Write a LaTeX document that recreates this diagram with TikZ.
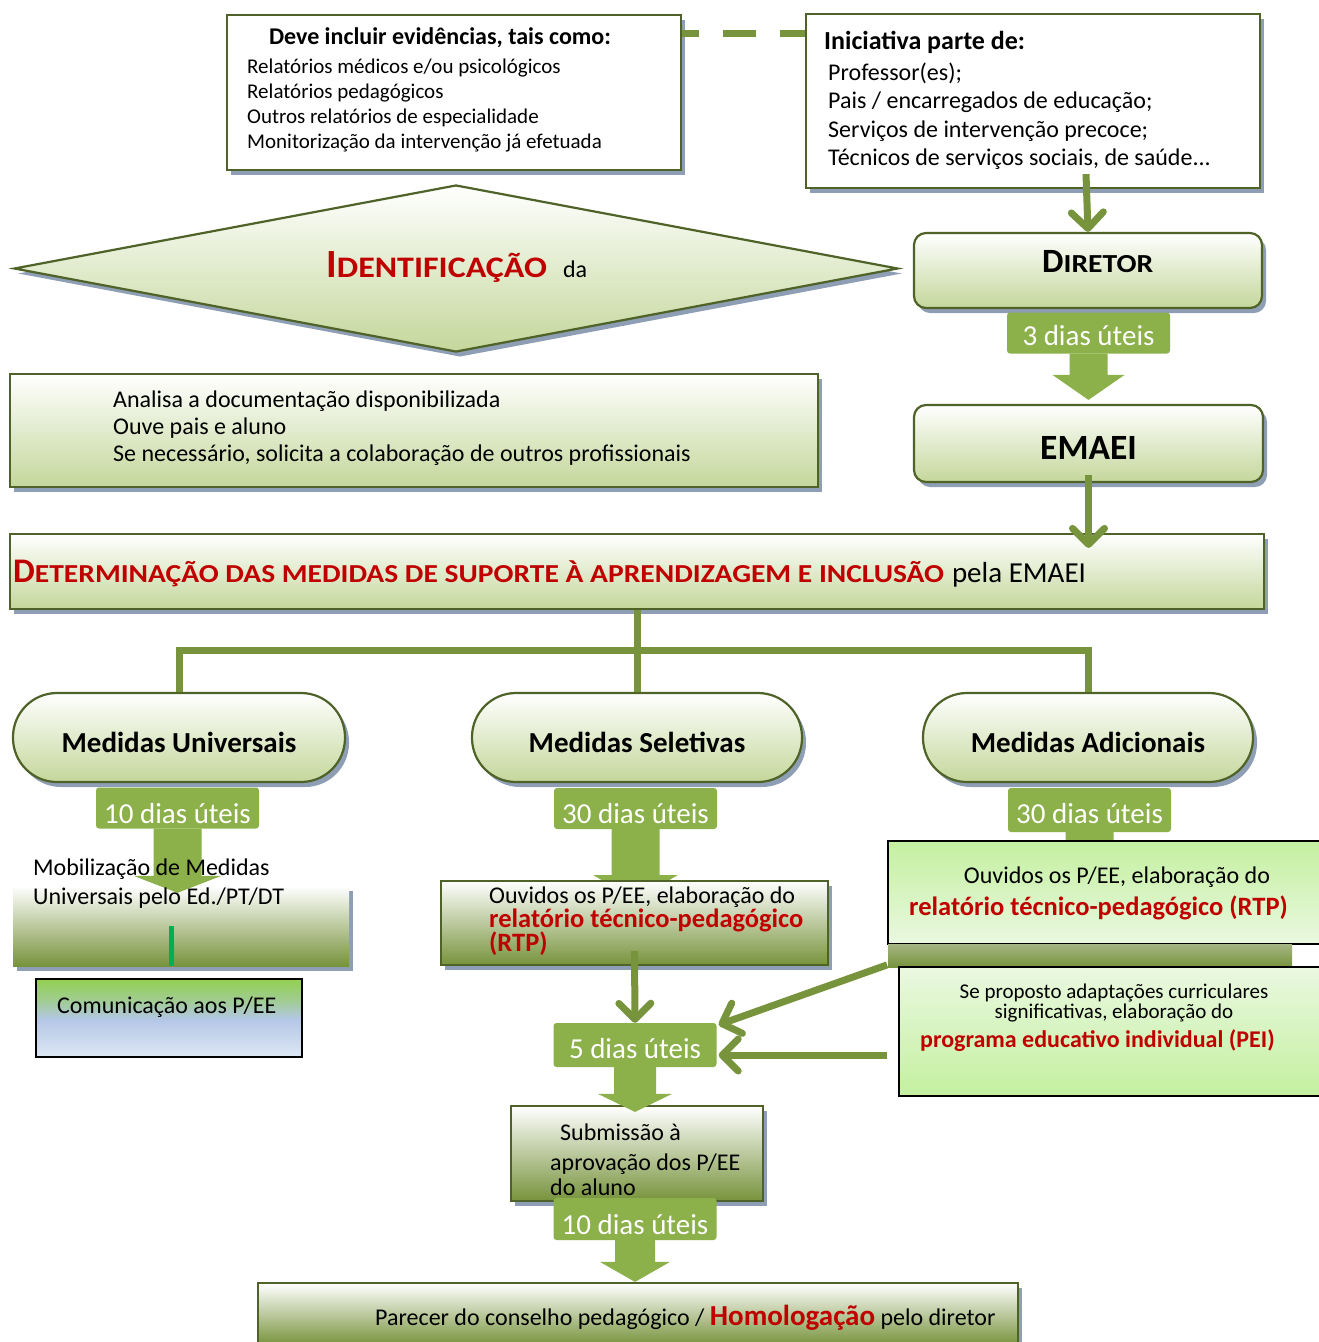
\documentclass[tikz,border=0pt]{standalone}
\usepackage{fontspec}
\setmainfont{Carlito}
\usepackage{graphicx}
\usetikzlibrary{arrows.meta,shapes.geometric,shadows,calc}

\definecolor{cBorder}{RGB}{79,98,40}
\definecolor{cLine}{RGB}{119,147,60}
\definecolor{cLab}{RGB}{140,176,74}
\definecolor{cShadow}{RGB}{142,158,180}
\definecolor{cLight}{RGB}{196,215,155}
\definecolor{cOlive}{RGB}{119,147,60}
\definecolor{cMid}{RGB}{205,208,190}
\definecolor{cRed}{RGB}{192,0,0}
\definecolor{cBar}{RGB}{0,176,80}
\definecolor{cComTop}{RGB}{146,208,80}
\definecolor{cComMid}{RGB}{180,199,231}
\definecolor{cComBot}{RGB}{222,231,243}
\definecolor{cBright}{RGB}{196,240,160}
\definecolor{cPale}{RGB}{234,248,224}
\definecolor{cStripTop}{RGB}{165,182,132}
\colorlet{cComGr}{cComTop!55!cComMid}

\pgfdeclareverticalshading{comsh}{100bp}{color(0bp)=(cComBot); color(25bp)=(cComBot);
  color(49bp)=(cComMid); color(61bp)=(cComGr); color(75bp)=(cComTop); color(100bp)=(cComTop)}

\newcommand\fsz[1]{\fontsize{#1}{#1}\selectfont}
\newcommand\fakesc[2]{{\fsz{#1}\scalebox{1.14}[1]{#2}}}

\begin{document}
\begin{tikzpicture}[x=1pt,y=-1pt,
  shad/.style={drop shadow={shadow xshift=4pt, shadow yshift=-5pt, fill=cShadow, opacity=1}},
  box/.style={draw=cBorder, line width=2.2pt, inner sep=0pt, shad},
  wbox/.style={box, fill=white},
  gbox/.style={box, top color=white, bottom color=cLight},
  obox/.style={box, top color=white, middle color=cMid, bottom color=cOlive},
  kbox/.style={draw=black, line width=1.8pt, inner sep=0pt},
  txt/.style={inner sep=0pt, anchor=base west},
  lab/.style={fill=cLab, text=white, rounded corners=3pt, inner sep=0pt, font=\fsz{29},
    minimum width=163pt, minimum height=41pt, text height=27pt, text depth=0pt},
  varr/.style={draw=cLine, line width=7pt, -{Straight Barb[length=16pt,width=32pt,round]}},
  tree/.style={draw=cLine, line width=7pt},
  dashc/.style={draw=cLine, line width=7pt, dash pattern=on 33pt off 24pt, dash phase=16pt},
  barrow/.style n args={3}{fill=cLab, to path={let \p1=(\tikztostart), \p2=(\tikztotarget) in
    (\x1-#1,\y1) -- (\x1-#1,\y2+#3) -- (\x1-#2,\y2+#3) -- (\x1,\y2) -- (\x1+#2,\y2+#3)
    -- (\x1+#1,\y2+#3) -- (\x1+#1,\y1) -- cycle}}
]
\useasboundingbox (0,0) rectangle (1319,1342);
\fill[white] (0,0) rectangle (1319,1342);

% ---------- top boxes
\node[wbox, minimum width=454pt, minimum height=155pt] (ev) at (454,92.5) {};
\node[wbox, minimum width=454pt, minimum height=174pt] (ini) at (1033,101) {};
\draw[dashc] ($(ev.north east)+(0,20)$) -- ($(ini.north west)+(0,21)$);

\node[txt, anchor=base, font=\bfseries\fsz{24}] (evt) at (440,44) {Deve incluir evidências, tais como:};
\node[txt, font=\fsz{21}] (ev1) at (247,73) {Relatórios médicos e/ou psicológicos};
\node[txt, font=\fsz{21}] (ev2) at (247,98) {Relatórios pedagógicos};
\node[txt, font=\fsz{21}] (ev3) at (247,123) {Outros relatórios de especialidade};
\node[txt, font=\fsz{21}] (ev4) at (247,148) {Monitorização da intervenção já efetuada};

\node[txt, font=\bfseries\fsz{26}] (init) at (824,49) {Iniciativa parte de:};
\node[txt, font=\fsz{24}] (ini1) at (828,80) {Professor(es);};
\node[txt, font=\fsz{24}] (ini2) at (828,108) {Pais / encarregados de educação;};
\node[txt, font=\fsz{24}] (ini3) at (828,137) {Serviços de intervenção precoce;};
\node[txt, font=\fsz{24}] (ini4) at (828,165) {Técnicos de serviços sociais, de saúde...};

% ---------- diamond
\node[gbox, diamond, minimum width=884pt, minimum height=167pt] (diam) at (456,268.5) {};
\node[txt, font=\bfseries, text=cRed] (diamt) at (326,277)
  {\fsz{40}I\fakesc{29.8}{DENTIFICAÇÃO}\hspace{16pt}{\mdseries\color{black}\fsz{24}da}};

% ---------- director
\node[gbox, rounded corners=12pt, minimum width=348pt, minimum height=75pt] (dir) at (1088,270.5) {};
\node[txt, font=\bfseries] (dirt) at (1042,272) {\fsz{34}D\fakesc{26}{IRETOR}};
\draw[varr] ($(ini.south -| dir.north)+(-2,-15)$) -- (dir.north);

\node[lab, text height=24pt] (l3) at (1088.5,333) {3 dias úteis};

% ---------- analysis
\node[gbox, minimum width=808pt, minimum height=113pt] (ana) at (414,430.5) {};
\node[txt, font=\fsz{24}] (ana1) at (113,407) {Analisa a documentação disponibilizada};
\node[txt, font=\fsz{24}] (ana2) at (113,434) {Ouve pais e aluno};
\node[txt, font=\fsz{24}] (ana3) at (113,461) {Se necessário, solicita a colaboração de outros profissionais};

% ---------- EMAEI
\node[gbox, rounded corners=12pt, minimum width=349pt, minimum height=77pt,
  font=\bfseries\fsz{35.5}, text height=31pt, text depth=0pt] (emaei) at (1088.5,443.5) {EMAEI};
\path[barrow={19pt}{36pt}{25pt}] (l3.south) to ($(emaei.north)+(0,-4)$);

% ---------- determination
\node[gbox, minimum width=1254pt, minimum height=75pt] (det) at (637,571.5) {};
\node[txt, font=\bfseries, text=cRed] (dett) at (13,582)
  {\fsz{34.5}D\fakesc{25.9}{ETERMINAÇÃO DAS MEDIDAS DE SUPORTE À APRENDIZAGEM E INCLUSÃO}\hspace{8pt}{\mdseries\color{black}\fsz{29}pela EMAEI}};
\draw[varr] ($(emaei.south)+(0,-8)$) -- ($(det.north -| emaei.south)+(0,15)$);

% ---------- measures
\node[gbox, rounded corners=44pt, minimum width=332pt, minimum height=89pt,
  font=\bfseries\fsz{29}, text height=29pt, text depth=0pt] (mu) at (179,737.5) {Medidas Universais};
\node[gbox, rounded corners=44pt, minimum width=330pt, minimum height=89pt,
  font=\bfseries\fsz{29}, text height=29pt, text depth=0pt] (ms) at (637,737.5) {Medidas Seletivas};
\node[gbox, rounded corners=44pt, minimum width=330pt, minimum height=89pt,
  font=\bfseries\fsz{29}, text height=29pt, text depth=0pt] (ma) at (1088,737.5) {Medidas Adicionais};
\coordinate (bar) at (637,650);
\draw[tree] (det.south) -- (ms.north);
\draw[tree] (mu.north) -- (mu.north |- bar) -- (ma.north |- bar) -- (ma.north);

\node[lab, text height=30pt] (l10u) at (177.5,808) {10 dias úteis};
\node[lab, text height=29pt] (l30s) at (635.5,808.5) {30 dias úteis};
\node[lab, text height=26pt, minimum height=44pt] (l30a) at (1089.5,810) {30 dias úteis};

% ---------- universal branch
\node[inner sep=0pt, minimum width=336pt, minimum height=80pt, top color=white, middle color=cMid,
  bottom color=cOlive, shad] (mob) at (181,926) {};
\path[barrow={24pt}{44pt}{17pt}] (l10u.south) to ($(mob.north)+(0,7)$);
\node[txt, font=\fsz{24}] (mob1) at (33,875) {Mobilização de Medidas};
\node[txt, font=\fsz{24}] (mob2) at (33,904) {Universais pelo Ed./PT/DT};
\node[fill=cBar, inner sep=0pt, minimum width=5pt, minimum height=40pt] (gbar) at (171,946) {};

\node[kbox, minimum width=266pt, minimum height=78pt, shade, shading=comsh] (com) at (169,1018) {};
\node[txt, font=\fsz{24}] (comt) at (57,1013) {Comunicação aos P/EE};

% ---------- selective branch
\path[barrow={24pt}{42pt}{25pt}] (l30s.south) to ($(l30s.south)+(0,71)$);
\node[obox, minimum width=387pt, minimum height=84pt] (rtpm) at (634.5,923) {};
\node[txt, font=\fsz{24}] (rtpm1) at (489,903) {Ouvidos os P/EE, elaboração do};
\node[txt, font=\bfseries\fsz{26.5}, text=cRed] (rtpm2) at (489,927) {relatório técnico-pedagógico};
\node[txt, font=\bfseries\fsz{26.5}, text=cRed] (rtpm3) at (489,951) {(RTP)};

\node[lab, minimum height=44pt, text height=26pt] (d5) at (635,1045) {5 dias úteis};
\draw[varr] ($(rtpm.south)+(0,-15)$) -- (d5.north);

% ---------- additional branch
\path[barrow={24pt}{42pt}{25pt}] (l30a.south) to ($(l30a.south)+(0,40)$);
\node[kbox, minimum width=432pt, minimum height=103pt, top color=cBright, bottom color=cPale] (rtpa) at (1104,892.5) {};
\node[txt, anchor=base, font=\fsz{24}] (rtpa1) at (1117,883) {Ouvidos os P/EE, elaboração do};
\node[txt, font=\bfseries\fsz{26.5}, text=cRed] (rtpa2) at (909,915) {relatório técnico-pedagógico (RTP)};
\node[inner sep=0pt, minimum width=404pt, minimum height=23pt, top color=cStripTop, bottom color=cOlive] (strip) at (1090,955.5) {};
\node[kbox, minimum width=421pt, minimum height=129pt, top color=cPale, bottom color=cBright] (pei) at (1109.5,1031.5) {};
\node[txt, anchor=base, font=\fsz{21}] (pei1) at (1114,998) {Se proposto adaptações curriculares};
\node[txt, anchor=base, font=\fsz{21}] (pei2) at (1114,1018) {significativas, elaboração do};
\node[txt, font=\bfseries\fsz{24}, text=cRed] (pei3) at (920,1047) {programa educativo individual (PEI)};

\draw[varr] ($(rtpa.south west)+(0,20)$) -- ($(d5.north east)+(2,2)$);
\draw[varr] ($(pei.west)+(-11,23.5)$) -- ($(d5.east)+(2,10)$);

% ---------- submission
\node[obox, minimum width=252pt, minimum height=95pt] (sub) at (637,1153.5) {};
\path[barrow={21pt}{37pt}{18pt}] (d5.south) to ($(sub.north)+(0,7)$);
\node[lab, minimum height=42pt, text height=31pt] (l10b) at (635,1219) {10 dias úteis};
\node[txt, font=\fsz{24}] (sub1) at (560,1140) {Submissão à};
\node[txt, font=\fsz{24}] (sub2) at (550,1170) {aprovação dos P/EE};
\node[txt, font=\fsz{24}] (sub3) at (550,1195) {do aluno};

% ---------- final
\node[obox, minimum width=760pt, minimum height=62pt] (par) at (638,1314) {};
\path[barrow={20pt}{35pt}{20pt}] (l10b.south) to (par.north);
\node[txt, font=\fsz{24}] (part) at (375,1325)
  {Parecer do conselho pedagógico / {\bfseries\color{cRed}\fsz{29}Homologação} pelo diretor};
\end{tikzpicture}
\end{document}
